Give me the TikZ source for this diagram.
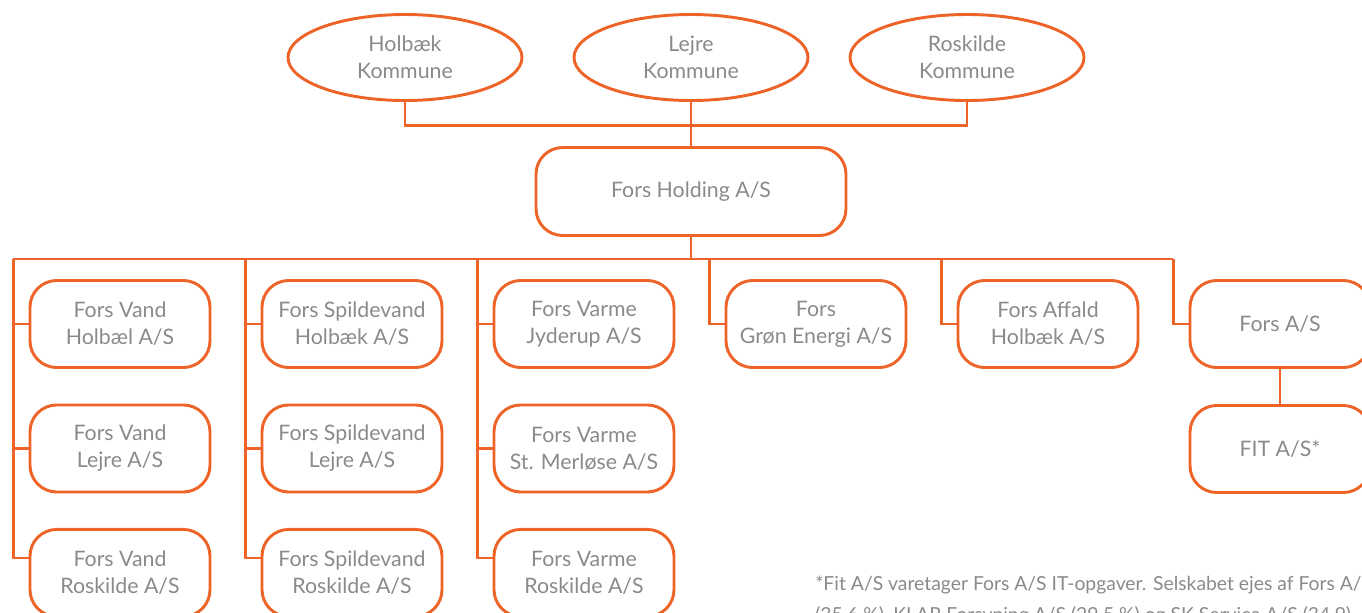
\documentclass[tikz,border=0pt]{standalone}
\usepackage{fontspec}
\setmainfont{Lato}
\usepackage{tikz}
\usetikzlibrary{positioning}
\usetikzlibrary{shapes.geometric}

\definecolor{forsorange}{RGB}{238,100,40}
\definecolor{forsgray}{RGB}{138,138,140}

\tikzset{
  kommune/.style={ellipse, draw=forsorange, line width=2.2pt, minimum width=175.5pt,
    minimum height=64.5pt, inner sep=0pt, outer sep=0pt, align=center, text=forsgray,
    font=\fontsize{16}{20.25}\selectfont},
  selskab/.style={rectangle, rounded corners=20pt, draw=forsorange, line width=2.2pt,
    minimum width=135pt, minimum height=65.25pt, inner sep=0pt, outer sep=0pt,
    align=center, text=forsgray, font=\fontsize{16}{20.25}\selectfont},
  link/.style={draw=forsorange, line width=2.2pt}
}

\begin{document}
\begin{tikzpicture}
    \useasboundingbox (0,0) rectangle (1021.5pt,-459pt);

    \node[kommune] (hk) at (303.75pt,-43.125pt) {Holbæk\\Kommune};
    \node[kommune, right=39pt of hk] (lk) {Lejre\\Kommune};
    \node[kommune, right=31.5pt of lk] (rk) {Roskilde\\Kommune};
    \node[selskab, minimum width=232.5pt, minimum height=66pt, below=35.25pt of lk] (hold) {Fors Holding A/S};

    \node[selskab] (v1) at (90pt,-243pt) {Fors Vand\\Holbæl A/S};
    \node[selskab, below=28.1pt of v1] (v2) {Fors Vand\\Lejre A/S};
    \node[selskab, below=28.1pt of v2] (v3) {Fors Vand\\Roskilde A/S};

    \node[selskab, right=39pt of v1] (s1) {Fors Spildevand\\Holbæk A/S};
    \node[selskab, below=28.1pt of s1] (s2) {Fors Spildevand\\Lejre A/S};
    \node[selskab, below=28.1pt of s2] (s3) {Fors Spildevand\\Roskilde A/S};

    \node[selskab, right=39pt of s1] (w1) {Fors Varme\\Jyderup A/S};
    \node[selskab, below=28.1pt of w1] (w2) {Fors Varme\\St. Merløse A/S};
    \node[selskab, below=28.1pt of w2] (w3) {Fors Varme\\Roskilde A/S};

    \node[selskab, right=39pt of w1] (ge) {Fors\\Grøn Energi A/S};
    \node[selskab, right=39pt of ge] (af) {Fors Affald\\Holbæk A/S};
    \node[selskab, right=39pt of af] (fa) {Fors A/S};
    \node[selskab, below=28.5pt of fa] (fit) {FIT A/S*};

    \node[anchor=base west, align=left, text=forsgray, inner sep=0pt,
      font=\fontsize{14.5}{23.25}\selectfont] (note) at (611.25pt,-465.75pt)
      {*Fit A/S varetager Fors A/S IT-opgaver. Selskabet ejes af Fors A/S\\
       (35,6 \%), KLAR Forsyning A/S (29,5 \%) og SK Service A/S (34,9)};

    % Bus lines
    \coordinate (top) at ([yshift=-18.4pt]lk.south);
    \coordinate (bus) at ([yshift=-17.6pt]hold.south);
    \coordinate (c1) at ([xshift=-12.4pt]v1.west |- bus);
    \coordinate (c2) at ([xshift=-12.4pt]s1.west |- bus);
    \coordinate (c3) at ([xshift=-12.4pt]w1.west |- bus);
    \coordinate (c4) at ([xshift=-12.4pt]ge.west |- bus);
    \coordinate (c5) at ([xshift=-12.4pt]af.west |- bus);
    \coordinate (c6) at ([xshift=-12.4pt]fa.west |- bus);

    % Edges
    \draw[link] (hk.south) |- (top) -| (rk.south);
    \draw[link] (lk.south) -- (hold.north);
    \draw[link] (hold.south) -- (bus);
    \draw[link] (c1) -- (c6);

    \draw[link] (c1) |- (v1.west);
    \draw[link] (c1) |- (v2.west);
    \draw[link] (c1) |- ([yshift=-21.4pt]v3.north west);

    \draw[link] (c2) |- (s1.west);
    \draw[link] (c2) |- (s2.west);
    \draw[link] (c2) |- ([yshift=-21.4pt]s3.north west);

    \draw[link] (c3) |- (w1.west);
    \draw[link] (c3) |- (w2.west);
    \draw[link] (c3) |- ([yshift=-21.4pt]w3.north west);

    \draw[link] (c4) |- (ge.west);
    \draw[link] (c5) |- (af.west);
    \draw[link] (c6) |- (fa.west);
    \draw[link] (fa.south) -- (fit.north);
\end{tikzpicture}
\end{document}
